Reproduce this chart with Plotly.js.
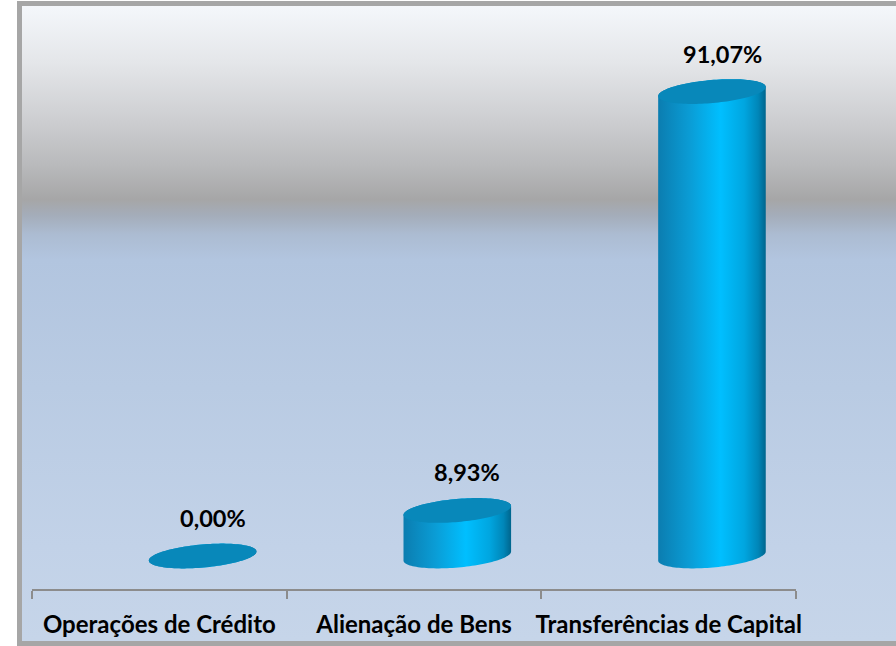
<!DOCTYPE html>
<html>
<head>
<meta charset="utf-8">
<script src="https://cdn.plot.ly/plotly-3.0.1.min.js"></script>
<style>
  html, body { margin: 0; padding: 0; width: 896px; height: 646px; overflow: hidden; background: #ffffff; }
  #bg {
    position: absolute; left: 17px; top: 1px; width: 910px; height: 645px;
    box-sizing: border-box; border: 5px solid #a6a6a6;
    background: linear-gradient(to bottom,
      #f4f7fb 0%, #e4e6e9 9%, #cdced1 18%, #b9babc 25%, #a6a6a7 30.5%,
      #a4adba 33%, #acbcd2 36%, #b2c5df 40%, #b9cbe3 60%, #c2d2e8 85%, #c6d5e9 100%);
  }
  #chart { position: absolute; left: 0; top: 0; width: 896px; height: 646px; }
</style>
</head>
<body>
<div id="bg"></div>
<div id="chart"></div>
<script>
// ---- data ----
const categories = ['Operações de Crédito', 'Alienação de Bens', 'Transferências de Capital'];
const values = [0.00, 8.93, 91.07];
const valueLabels = ['0,00%', '8,93%', '91,07%'];

// ---- layout geometry ----
const W = 896, H = 646;
const M = { l: 32, r: 100, t: 20, b: 57 };
const xRange = [-0.5, 2.5];
const pxPerY = 5.1;                       // pixels per percentage point
const yMin = -33 / pxPerY;                 // zero sits 33px above the axis line
const yMax = yMin + (H - M.t - M.b) / pxPerY;
const pxPerX = (W - M.l - M.r) / (xRange[1] - xRange[0]);

const barOffset = 0.17;   // 3D perspective shift of cylinders
const halfW = 54;         // px
const halfH = 11.5;       // px (ellipse half height)
const tilt = 5 * Math.PI / 180;

function ellipse(cx, cy, t0, t1, n) {
  const xs = [], ys = [];
  for (let k = 0; k <= n; k++) {
    const t = t0 + (t1 - t0) * k / n;
    const px = halfW * Math.cos(t), py = halfH * Math.sin(t);
    const rx = px * Math.cos(tilt) - py * Math.sin(tilt);
    const ry = px * Math.sin(tilt) + py * Math.cos(tilt);
    xs.push(cx + rx / pxPerX);
    ys.push(cy + ry / pxPerY);
  }
  return [xs, ys];
}

const traces = [];
// invisible trace registering the categories on the category axis
traces.push({ x: categories, y: values, type: 'scatter', mode: 'none', xaxis: 'x', yaxis: 'y', hoverinfo: 'skip', showlegend: false });

values.forEach((v, i) => {
  const cx = i + barOffset;
  const [bx, by] = ellipse(cx, 0, Math.PI, 2 * Math.PI, 60);
  const [tx, ty] = ellipse(cx, v, 0, Math.PI, 60);
  traces.push({
    x: bx.concat(tx), y: by.concat(ty), type: 'scatter', mode: 'none', fill: 'toself',
    xaxis: 'x2', yaxis: 'y', hoverinfo: 'skip', showlegend: false,
    fillgradient: { type: 'horizontal', colorscale: [
      [0, '#0b7db0'], [0.3, '#0a9dd6'], [0.58, '#00bfff'], [0.8, '#00a6e0'], [0.93, '#0086b8'], [1, '#00658d']] }
  });
  const [ex, ey] = ellipse(cx, v, 0, 2 * Math.PI, 120);
  traces.push({
    x: ex, y: ey, type: 'scatter', mode: 'none', fill: 'toself', fillcolor: '#0888ba',
    xaxis: 'x2', yaxis: 'y', hoverinfo: 'skip', showlegend: false
  });
});

const annotations = values.map((v, i) => ({
  x: i + barOffset + 0.04, y: v, xref: 'x2', yref: 'y', yanchor: 'bottom', yshift: 22,
  text: valueLabels[i], showarrow: false,
  font: { family: 'Lato, "Open Sans", sans-serif', size: 23.5, weight: 700, color: '#000000' }
}));

const layout = {
  width: W, height: H, margin: M,
  paper_bgcolor: 'rgba(0,0,0,0)', plot_bgcolor: 'rgba(0,0,0,0)',
  showlegend: false,
  xaxis: {
    type: 'category', categoryarray: categories, categoryorder: 'array', range: xRange,
    tickson: 'boundaries', ticks: 'outside', ticklen: 8, tickwidth: 2, tickcolor: '#8c8c8c',
    showline: true, linecolor: '#8c8c8c', linewidth: 2, showgrid: false, zeroline: false,
    tickangle: 0, automargin: false,
    ticklabelstandoff: 13,
    tickfont: { family: 'Lato, "Open Sans", sans-serif', size: 24, weight: 700, color: '#000000' },
    fixedrange: true
  },
  xaxis2: { overlaying: 'x', anchor: 'y', range: xRange, visible: false, fixedrange: true },
  yaxis: { range: [yMin, yMax], visible: false, fixedrange: true },
  annotations: annotations
};

Plotly.newPlot('chart', traces, layout, { displayModeBar: false, staticPlot: true });
</script>
</body>
</html>
